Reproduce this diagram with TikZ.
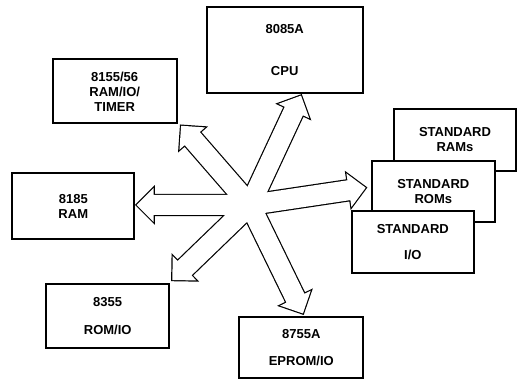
\documentclass[tikz,border=0pt]{standalone}
\usepackage{fontspec}
\setmainfont{Liberation Sans}
\usetikzlibrary{calc}

\tikzset{
  chip/.style={draw, line width=1.8pt, fill=white, align=center, inner sep=2pt,
               font=\bfseries\fontsize{13}{15}\selectfont},
  busline/.style={draw, line width=2.4pt, line join=miter},
  busfill/.style={fill=white},
}

% hollow bus arrow: #1 style, #2 from, #3 tip
\newcommand{\busarrow}[3]{%
  \coordinate (neck) at ($(#3)!17pt!(#2)$);
  \path[#1] ($(#2)!10pt!90:(#3)$) -- ($(neck)!10pt!90:(#3)$)
    -- ($(neck)!17pt!90:(#3)$) -- (#3) -- ($(neck)!17pt!-90:(#3)$)
    -- ($(neck)!10pt!-90:(#3)$) -- ($(#2)!10pt!-90:(#3)$) -- cycle;
}

\begin{document}
\begin{tikzpicture}[x=1pt, y=1pt]
  \useasboundingbox (0,0) rectangle (530,379);

  % memory and peripheral chips
  \node[chip, minimum width=156pt, minimum height=86pt] (cpu) at (284.7,329.3) {8085A\\[27pt]CPU};
  \node[chip, minimum width=124pt, minimum height=64pt] (timer) at (114.7,287.7) {8155/56\\RAM/IO/\\TIMER};
  \node[chip, minimum width=122pt, minimum height=65.7pt] (ram) at (73.3,172.8) {8185\\RAM};
  \node[chip, minimum width=123.3pt, minimum height=63.7pt] (rom) at (107.7,63.2) {8355\\[12.6pt]ROM/IO};
  \node[chip, minimum width=124pt, minimum height=61pt] (eprom) at (301.3,31.2) {8755A\\[12.4pt]EPROM/IO};

  % standard parts, stacked
  \node[chip, minimum width=122pt, minimum height=61.4pt] (rams) at (455,239) {STANDARD\\RAMs};
  \node[chip, minimum width=123.3pt, minimum height=61.3pt] (roms) at (433.3,187.3) {STANDARD\\ROMs};
  \node[chip, minimum width=122.3pt, minimum height=62.3pt] (io) at (412.8,136.8) {STANDARD\\[11pt]I/O};

  % bus star
  \coordinate (hub) at (250,174);
  \coordinate (tip-cpu) at ($(hub)+(65:120.7pt)$);
  \coordinate (tip-timer) at ($(hub)+(131:105pt)$);
  \coordinate (tip-ram) at ($(hub)+(180:113.3pt)$);
  \coordinate (tip-rom) at ($(hub)+(224:108pt)$);
  \coordinate (tip-eprom) at ($(hub)+(-64:120.7pt)$);
  \coordinate (tip-std) at ($(hub)+(8.5:117pt)$);

  \foreach \t in {cpu,timer,ram,rom,eprom,std}
    \busarrow{busline}{hub}{tip-\t};
  \foreach \t in {cpu,timer,ram,rom,eprom,std}
    \busarrow{busfill}{hub}{tip-\t};
\end{tikzpicture}
\end{document}
